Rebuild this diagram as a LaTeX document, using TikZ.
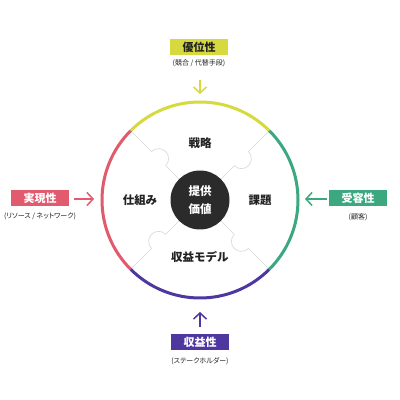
\documentclass[tikz,border=0pt]{standalone}
\usepackage{fontspec}
\setmainfont{Noto Sans CJK JP}
\newfontfamily\subfont[RawFeature=+palt]{Noto Sans CJK JP}
\usetikzlibrary{arrows.meta}
\definecolor{cyel}{RGB}{214,218,62}
\definecolor{cgrn}{RGB}{60,168,128}
\definecolor{cpur}{RGB}{78,56,160}
\definecolor{cred}{RGB}{226,90,110}
\definecolor{cdark}{RGB}{43,43,43}
\definecolor{ctext}{RGB}{34,34,34}
\definecolor{cline}{RGB}{215,215,215}
\tikzset{
  ring/.style={line width=3pt},
  divline/.style={draw=cline, line width=0.6pt},
  lab/.style={minimum width=58pt, minimum height=16pt, inner sep=0pt, text=white,
    font=\fontsize{11}{12}\selectfont\bfseries},
  sub/.style={inner sep=0pt, text=ctext, font=\subfont\fontsize{7}{8}\selectfont},
  quad/.style={inner sep=0pt, text=ctext, font=\fontsize{11.5}{12}\selectfont\bfseries},
  arr/.style={line width=1.5pt, -{Straight Barb[length=6pt,width=13pt]}}
}
\begin{document}
\begin{tikzpicture}[x=1pt,y=1pt]
\useasboundingbox (0,0) rectangle (400,400);
\fill[white] (0,0) rectangle (400,400);
% dividing lines with puzzle tabs
\foreach \a in {45,135,225,315} {
  \draw[divline, shift={(200,200)}, rotate=\a] (29.5,0) -- (48.5,0)
    arc[start angle=180, end angle=360, radius=10] -- (98,0);
}
% outer ring
\draw[ring, cyel] (200,200) ++(45:98) arc[start angle=45, end angle=135, radius=98];
\draw[ring, cred] (200,200) ++(135:98) arc[start angle=135, end angle=225, radius=98];
\draw[ring, cpur] (200,200) ++(225:98) arc[start angle=225, end angle=315, radius=98];
\draw[ring, cgrn] (200,200) ++(315:98) arc[start angle=315, end angle=405, radius=98];
% center
\node[circle, fill=cdark, minimum size=59pt, inner sep=0pt, text=white, align=center,
  font=\fontsize{11.5}{18}\selectfont\bfseries] (core) at (200,200) {提供\\価値};
% quadrant labels
\node[quad] (q1) at (200,257) {戦略};
\node[quad] (q2) at (140,200) {仕組み};
\node[quad] (q3) at (260,200) {課題};
\node[quad] (q4) at (200,143) {収益モデル};
% top
\node[lab, fill=cyel, text=ctext] (top) at (199,353) {優位性};
\node[sub] (topsub) at (199,337) {(競合 / 代替手段)};
\coordinate (ta) at (200,320); \coordinate (tb) at (200,306);
\draw[arr, cyel] (ta) -- (tb);
% left
\node[lab, fill=cred] (left) at (40,201.5) {実現性};
\node[sub] (leftsub) at (40,184) {(リソース / ネットワーク)};
\coordinate (la) at (74,201); \coordinate (lb) at (94,201);
\draw[arr, cred] (la) -- (lb);
% right
\node[lab, fill=cgrn] (right) at (358,202) {受容性};
\node[sub] (rightsub) at (358,183) {(顧客)};
\coordinate (ra) at (327,201); \coordinate (rb) at (305,201);
\draw[arr, cgrn] (ra) -- (rb);
% bottom
\node[lab, fill=cpur] (bottom) at (200,58) {収益性};
\node[sub] (bottomsub) at (200,39) {(ステークホルダー)};
\coordinate (ba) at (200,73); \coordinate (bb) at (200,88);
\draw[arr, cpur] (ba) -- (bb);
\end{tikzpicture}
\end{document}
